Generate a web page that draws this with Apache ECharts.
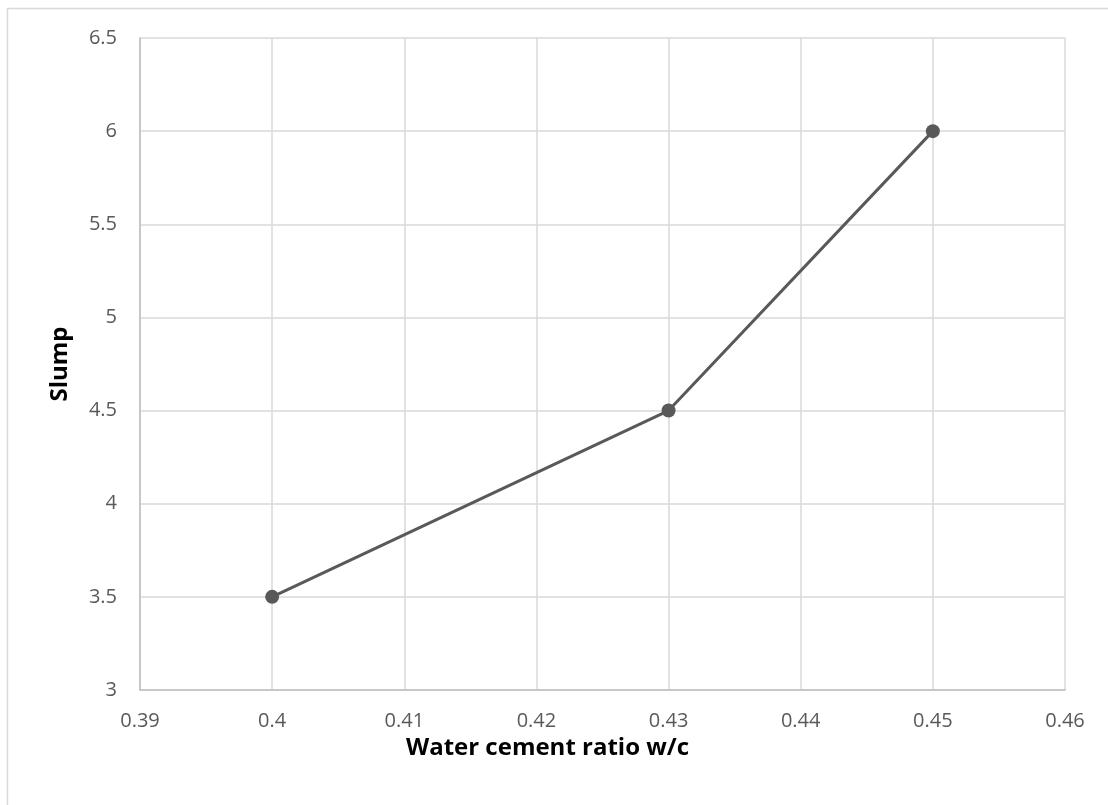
<!DOCTYPE html>
<html><head><meta charset="utf-8">
<script src="https://cdn.jsdelivr.net/npm/echarts@6/dist/echarts.min.js"></script>
<style>html,body{margin:0;padding:0;background:#fff}#c{width:1108px;height:805px}</style>
</head><body><div id="c"></div>
<script>
const xValues = [0.40, 0.43, 0.45];
const slump = [3.5, 4.5, 6.0];
const xTitle = 'Water cement ratio w/c';
const yTitle = 'Slump';

const chart = echarts.init(document.getElementById('c'));
const font = '"Open Sans", "Liberation Sans", sans-serif';
chart.setOption({
  animation: false,
  graphic: [{type:'rect', shape:{x:7.5, y:8.5, width:1200, height:1200}, style:{fill:'none', stroke:'#d9d9d9', lineWidth:1.5}}],
  grid: {left:140, right:43, top:38, bottom:115, containLabel:false},
  xAxis: {
    type:'value', min:0.39, max:0.46, interval:0.01,
    name: xTitle, nameLocation:'middle', nameGap:44,
    nameTextStyle:{fontFamily:font, fontSize:24, fontWeight:'bold', color:'#000', padding:[0,110,0,0]},
    axisLine:{show:true, lineStyle:{color:'#bfbfbf', width:1.5}},
    axisTick:{show:false},
    axisLabel:{fontFamily:font, fontSize:20, color:'#595959', margin:21, formatter:v=>String(+v.toFixed(2))},
    splitLine:{show:true, lineStyle:{color:'#d9d9d9', width:1.5}}
  },
  yAxis: {
    type:'value', min:3, max:6.5, interval:0.5,
    name: yTitle, nameLocation:'middle', nameGap:68, nameRotate:90,
    nameTextStyle:{fontFamily:font, fontSize:24, fontWeight:'bold', color:'#000'},
    axisLine:{show:true, lineStyle:{color:'#bfbfbf', width:1.5}},
    axisTick:{show:false},
    axisLabel:{fontFamily:font, fontSize:20, color:'#595959', margin:23, formatter:v=>String(+v.toFixed(1))},
    splitLine:{show:true, lineStyle:{color:'#d9d9d9', width:1.5}}
  },
  series: [{
    type:'line', data: xValues.map((x,i)=>[x, slump[i]]),
    symbol:'circle', symbolSize:14,
    lineStyle:{color:'#595959', width:3},
    itemStyle:{color:'#595959'}
  }]
});
</script></body></html>
